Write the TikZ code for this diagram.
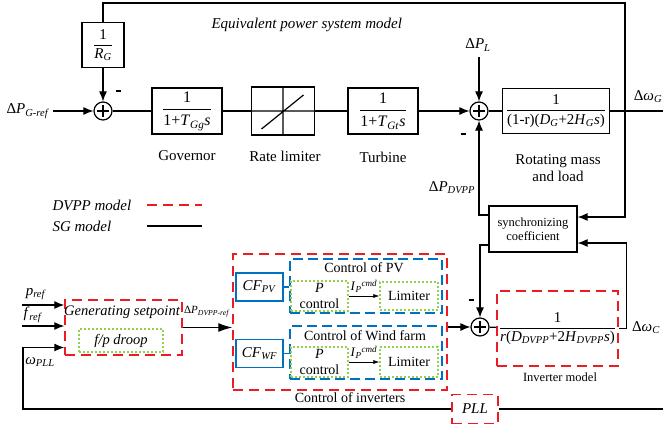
\documentclass[tikz,border=0pt]{standalone}
\usepackage{fontspec}
\setmainfont{Liberation Serif}
\usetikzlibrary{arrows.meta}
\definecolor{dvppred}{RGB}{237,28,36}
\definecolor{ctrlblue}{RGB}{0,112,192}
\definecolor{dotgreen}{RGB}{146,208,80}
\newcommand{\sbi}[1]{\textsubscript{\textit{#1}}}
\newcommand{\blkfrac}[2]{$\displaystyle\frac{\hbox{#1}}{\hbox{#2}}$}

\begin{document}
\begin{tikzpicture}[x=1pt,y=-1pt,line width=1.1pt,
  every node/.style={font=\fontsize{15}{17}\selectfont},
  block/.style={draw,line width=1.2pt,inner sep=0pt,minimum width=70pt,minimum height=46pt},
  sumnode/.style={draw,circle,line width=1.2pt,minimum size=18pt,inner sep=0pt,
    path picture={\draw[line width=1.1pt] ([yshift=-3pt]path picture bounding box.north) -- ([yshift=3pt]path picture bounding box.south)
      ([xshift=3pt]path picture bounding box.west) -- ([xshift=-3pt]path picture bounding box.east);}},
  sig/.style={-{Latex[length=10pt,width=8pt]}},
  thin sig/.style={line width=0.6pt,-{Latex[length=6pt,width=4pt]}},
  dvppbox/.style={draw=dvppred,line width=1.5pt,dash pattern=on 10pt off 6pt,inner sep=0pt},
  ctrlbox/.style={draw=ctrlblue,line width=1.5pt,dash pattern=on 10pt off 5pt,inner sep=0pt},
  dotbox/.style={draw=dotgreen,line width=1.3pt,dash pattern=on 2pt off 2pt,inner sep=0pt,align=center,font=\fontsize{14}{16}\selectfont},
  cfbox/.style={draw=ctrlblue,line width=1.4pt,inner sep=0pt,minimum width=47pt,minimum height=28pt},
  lbl/.style={inner sep=0pt,align=center},
  minus/.style={inner sep=0pt}
]
\useasboundingbox (0,0) rectangle (663,428);

% equivalent power system model
\node[lbl,anchor=west,font=\itshape\fontsize{15}{17}\selectfont] (eqlabel) at (211,25) {Equivalent power system model};
\node[block,minimum width=42pt,minimum height=45pt] (rg) at (103,45) {\blkfrac{1}{\textit{R}\sbi{G}}};
\node[sumnode] (sum1) at (103,111) {};
\node[minus] (m1) at (118,91) {\rule{5pt}{1.8pt}};
\node[lbl] (greflabel) at (28,111) {Δ\textit{P}\sbi{G-ref}};
\coordinate (gref) at (53,111);
\node[block,font=\fontsize{16}{18}\selectfont] (gov) at (187,111) {\blkfrac{1}{1+\textit{T}\sbi{Gg}\textit{s}}};
\node[lbl] (govlabel) at (187,156) {Governor};
\node[block,minimum width=63pt,minimum height=48pt,
  path picture={\draw (path picture bounding box.north) -- (path picture bounding box.south)
    (path picture bounding box.west) -- (path picture bounding box.east)
    ([xshift=10pt,yshift=6pt]path picture bounding box.south west) -- ([xshift=-11pt,yshift=-8pt]path picture bounding box.north east);}] (rate) at (283,111) {};
\node[lbl] (ratelabel) at (285,156) {Rate limiter};
\node[block,font=\fontsize{16}{18}\selectfont] (tur) at (383,111) {\blkfrac{1}{1+\textit{T}\sbi{Gt}\textit{s}}};
\node[lbl] (turlabel) at (383,157) {Turbine};
\node[sumnode] (sum2) at (479,111) {};
\node[lbl] (dpllabel) at (478,45) {Δ\textit{P}\sbi{L}};
\coordinate (dpl) at (479,57);
\node[minus] (m2) at (463,134) {\rule{5pt}{1.8pt}};
\node[block,minimum width=107pt,minimum height=45pt] (rot) at (556,111) {\blkfrac{1}{(1-r)(\textit{D}\sbi{G}+2\textit{H}\sbi{G}\textit{s})}};
\node[lbl] (rotlabel) at (558,168) {Rotating mass\\and load};
\node[lbl] (wglabel) at (648,97) {Δ\textit{ω}\sbi{G}};
\coordinate (wgout) at (663,111);
\coordinate (jg) at (625,111);
\coordinate (fbr) at (625,3);
\node[lbl] (dpdvpplabel) at (452,188) {Δ\textit{P}\sbi{DVPP}};
\node[block,minimum width=88pt,minimum height=46pt,align=center,font=\fontsize{12.5}{14}\selectfont] (sync) at (533,229) {synchronizing\\coefficient};

% legend
\node[lbl,anchor=west,font=\itshape\fontsize{15}{17}\selectfont] (leg1) at (52,205) {DVPP model};
\node[lbl,anchor=west,font=\itshape\fontsize{15}{17}\selectfont] (leg2) at (52,226) {SG model};
\coordinate (leg1a) at (147,205);
\coordinate (leg1b) at (202,205);
\coordinate (leg2a) at (147,226);
\coordinate (leg2b) at (202,226);
\draw[draw=dvppred,line width=1.5pt,dash pattern=on 10pt off 6pt] (leg1a) -- (leg1b);
\draw[line width=1.5pt] (leg2a) -- (leg2b);

% DVPP model
\node[dvppbox,minimum width=117pt,minimum height=55pt] (gen) at (123.5,327.5) {};
\node[lbl,font=\itshape\fontsize{14.5}{16}\selectfont] (genlabel) at (122,312) {Generating setpoint};
\node[dotbox,minimum width=84pt,minimum height=23pt,font=\itshape\fontsize{14.5}{16}\selectfont] (droop) at (121,340.5) {f/p droop};
\node[lbl] (preflabel) at (36,294) {\textit{p}\sbi{ref}};
\node[lbl] (freflabel) at (33,315) {\textit{f}\sbi{ref}};
\node[lbl] (wplllabel) at (40,362) {\textit{ω}\sbi{PLL}};
\coordinate (pin) at (22,305);
\coordinate (fin) at (22,326);
\node[lbl,font=\fontsize{11}{13}\selectfont] (dprefl) at (207,312) {Δ\textit{P}\sbi{DVPP-ref}};

\node[dvppbox,minimum width=214pt,minimum height=136pt] (ctrl) at (340,322) {};
\node[lbl,font=\fontsize{14}{16}\selectfont] (ctrllabel) at (350,398) {Control of inverters};
\node[cfbox] (cfpv) at (259.5,287) {\textit{CF}\sbi{PV}};
\node[cfbox] (cfwf) at (259.5,353.5) {\textit{CF}\sbi{WF}};
\node[ctrlbox,minimum width=152pt,minimum height=54pt] (pvbox) at (366,286) {};
\node[ctrlbox,minimum width=152pt,minimum height=53pt] (wfbox) at (366,352.5) {};
\node[lbl,font=\fontsize{14}{16}\selectfont] (pvlabel) at (364,268) {Control of PV};
\node[lbl,font=\fontsize{14}{16}\selectfont] (wflabel) at (365,336) {Control of Wind farm};
\node[dotbox,minimum width=57pt,minimum height=30pt] (pcpv) at (319.5,296) {\textit{P}\\control};
\node[dotbox,minimum width=58pt,minimum height=28pt] (lmpv) at (409,296) {Limiter};
\node[dotbox,minimum width=57pt,minimum height=30pt] (pcwf) at (319.5,362) {\textit{P}\\control};
\node[dotbox,minimum width=58pt,minimum height=30pt] (lmwf) at (409,362) {Limiter};
\node[lbl,font=\fontsize{13}{15}\selectfont] (ipv) at (364,286) {\textit{I}\textsubscript{\textit{P}}\textsuperscript{\textit{cmd}}};
\node[lbl,font=\fontsize{13}{15}\selectfont] (iwf) at (364,352) {\textit{I}\textsubscript{\textit{P}}\textsuperscript{\textit{cmd}}};

\node[sumnode] (sum3) at (480,327) {};
\node[minus] (m3) at (471,300) {\rule{5pt}{1.8pt}};
\node[dvppbox,minimum width=121pt,minimum height=75pt] (inv) at (557.5,328.5) {\blkfrac{1}{\textit{r}(\textit{D}\sbi{DVPP}+2\textit{H}\sbi{DVPP}\textit{s})}};
\node[lbl,font=\fontsize{12.5}{14}\selectfont] (invlabel) at (560,377) {Inverter model};
\node[lbl] (wclabel) at (646,328) {Δ\textit{ω}\sbi{C}};
\node[dvppbox,minimum width=46pt,minimum height=29pt,font=\itshape\fontsize{15}{17}\selectfont] (pll) at (475,409) {PLL};
\coordinate (pllr) at (663,409);
\coordinate (pllc) at (23,409);

% connectors
\draw[sig] (gref) -- (sum1);
\draw[sig] (rg) -- (sum1);
\draw (sum1) -- (gov);
\draw (gov) -- (rate);
\draw (rate) -- (tur);
\draw[sig] (tur) -- (sum2);
\draw[sig] (dpl) -- (sum2);
\draw (sum2) -- (rot);
\draw (rot) -- (wgout);
\draw (jg) -- (fbr) -| (rg);
\draw[sig] (jg) |- ([yshift=12pt]sync.east);
\draw[sig] (inv.east) -- ++(8,0) |- ([yshift=-14pt]sync.east);
\draw[sig] ([yshift=14pt]sync.west) -| (sum2);
\draw[sig] ([yshift=-16pt]sync.west) -| (sum3);
\draw[sig] (ctrl.east |- sum3) -- (sum3);
\draw (sum3) -- (inv);
\draw[-{Latex[length=14pt,width=9pt]}] (gen.east) -- (gen.east -| ctrl.west);
\draw[sig] (pin) -- (gen.west |- pin);
\draw[sig] (fin) -- (gen.west |- fin);
\draw (pllr) -- (pll);
\draw[sig] (pll) -- (pllc) |- ([yshift=-20pt]gen.west);
\draw[draw=ctrlblue,line width=1.4pt] (cfpv) -- (cfpv -| pvbox.west);
\draw[draw=ctrlblue,line width=1.4pt] (cfwf) -- (cfwf -| wfbox.west);
\draw[thin sig] (pcpv) -- (lmpv);
\draw[thin sig] (pcwf) -- (lmwf);
\end{tikzpicture}
\end{document}
